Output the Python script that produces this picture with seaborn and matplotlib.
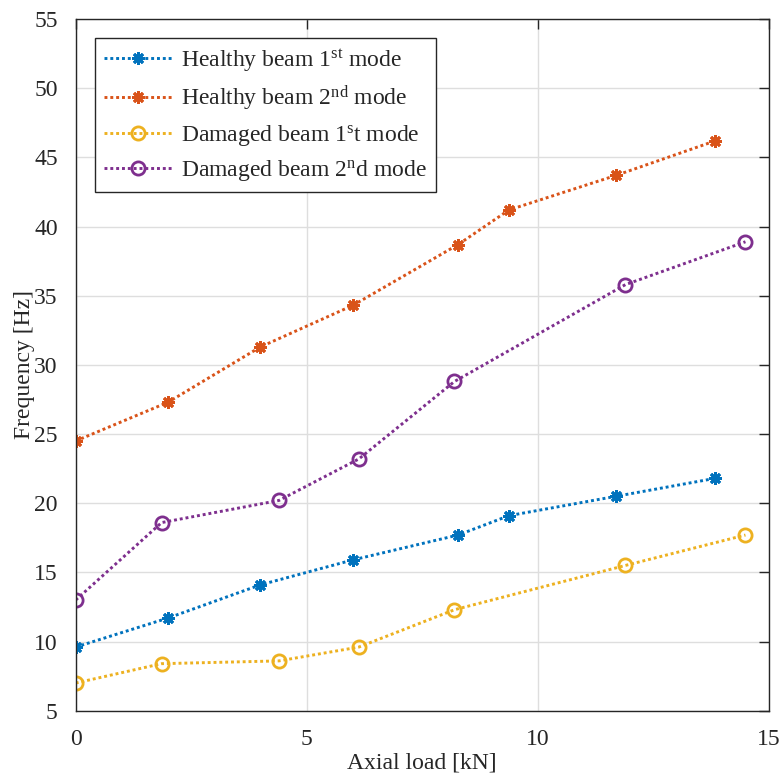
import matplotlib
matplotlib.use("Agg")
import matplotlib.pyplot as plt
import seaborn as sns
import pandas as pd

# Axial load (kN) at which each beam was measured
load_healthy = [0.0, 2.0, 4.0, 6.0, 8.28, 9.38, 11.7, 13.85]
load_damaged = [0.0, 1.86, 4.4, 6.13, 8.2, 11.9, 14.5]

# Natural frequencies (Hz)
healthy_mode1 = [9.6, 11.7, 14.1, 15.9, 17.7, 19.1, 20.5, 21.8]
healthy_mode2 = [24.5, 27.3, 31.3, 34.3, 38.7, 41.2, 43.7, 46.2]
damaged_mode1 = [7.0, 8.4, 8.6, 9.6, 12.3, 15.5, 17.7]
damaged_mode2 = [13.0, 18.6, 20.2, 23.2, 28.8, 35.8, 38.9]

labels = [
    r"Healthy beam 1$^{\rm st}$ mode",
    r"Healthy beam 2$^{\rm nd}$ mode",
    r"Damaged beam 1$^{\rm s}$t mode",
    r"Damaged beam 2$^{\rm n}$d mode",
]
colors = ["#0072BD", "#D95319", "#EDB120", "#7E2F8E"]
# 8-armed asterisk for the healthy beam, open circle for the damaged beam
markers = [(8, 2, 0), (8, 2, 0), "o", "o"]

x_ticks = [0, 5, 10, 15]
y_ticks = [5, 10, 15, 20, 25, 30, 35, 40, 45, 50, 55]

sns.set_theme(style="white")
plt.rcParams["font.family"] = ["Liberation Serif", "DejaVu Serif"]
plt.rcParams["mathtext.fontset"] = "custom"
plt.rcParams["mathtext.rm"] = "Liberation Serif"
plt.rcParams["mathtext.it"] = "Liberation Serif:italic"
plt.rcParams["mathtext.bf"] = "Liberation Serif:bold"

FS = 17

fig = plt.figure(figsize=(7.82, 7.78), dpi=100)
ax = fig.add_axes([0.0968, 0.0865, 0.886, 0.889])

series = [
    (load_healthy, healthy_mode1),
    (load_healthy, healthy_mode2),
    (load_damaged, damaged_mode1),
    (load_damaged, damaged_mode2),
]
for (xs, ys), lab, col, mk in zip(series, labels, colors, markers):
    df = pd.DataFrame({"load": xs, "freq": ys})
    is_circle = mk == "o"
    sns.lineplot(
        data=df, x="load", y="freq", ax=ax, color=col, label=lab,
        linestyle=(0, (1, 1)), linewidth=2.1, marker=mk,
        markersize=9.5 if is_circle else 9,
        markerfacecolor="none" if is_circle else col,
        markeredgecolor=col, markeredgewidth=2.0,
        sort=False, estimator=None,
    )

ax.set_xlim(0, 15)
ax.set_ylim(5, 55)
ax.set_xticks(x_ticks)
ax.set_yticks(y_ticks)
ax.set_xlabel("Axial load [kN]", fontsize=FS, color="#262626", labelpad=2)
ax.set_ylabel("Frequency [Hz]", fontsize=FS, color="#262626", labelpad=-1)

ax.grid(True, color="#dedede", linewidth=1.0)
ax.set_axisbelow(True)
for s in ax.spines.values():
    s.set_color("#262626")
    s.set_linewidth(1.0)
ax.tick_params(axis="both", direction="in", length=7, width=1.0,
               colors="#262626", labelsize=FS, top=True, right=True,
               labelcolor="#262626")
ax.tick_params(axis="x", pad=13)
ax.tick_params(axis="y", pad=13)

leg = ax.legend(loc="upper left", bbox_to_anchor=(0.0275, 0.973),
                fontsize=FS, frameon=True, fancybox=False, shadow=False,
                handlelength=2.9, handletextpad=0.35, labelspacing=0.42,
                borderpad=0.4, borderaxespad=0.0)
leg.get_frame().set_edgecolor("#262626")
leg.get_frame().set_linewidth(1.0)
leg.get_frame().set_alpha(1.0)

fig.savefig("out.png", dpi=100)
